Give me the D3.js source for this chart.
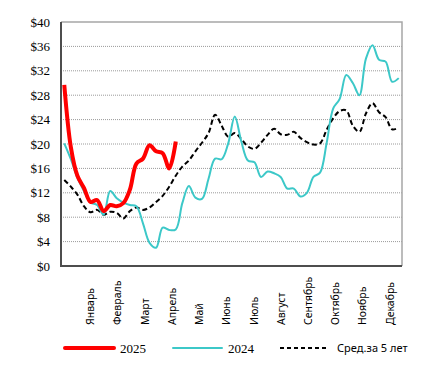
<!DOCTYPE html>
<html>
<head>
<meta charset="utf-8">
<script src="https://cdn.jsdelivr.net/npm/d3@7"></script>
<style>
  body { margin: 0; background: #fff; }
  svg { display: block; }
</style>
</head>
<body>
<svg id="chart" width="431" height="373"></svg>
<script>
// weekly values, 52 weeks
const weeks = d3.range(52);

const months = ["Январь", "Февраль", "Март", "Апрель", "Май", "Июнь",
    "Июль", "Август", "Сентябрь", "Октябрь", "Ноябрь", "Декабрь"];

const yTicks = [0, 4, 8, 12, 16, 20, 24, 28, 32, 36, 40];

const series2025 = [29.7, 19.5, 14.8, 12.8, 10.5, 10.8, 9.0, 10.0, 9.8, 10.3,
    12.5, 16.8, 17.6, 19.8, 18.8, 18.5, 16.0, 20.4];

const series2024 = [20.1, 17.5, 14.5, 12.3, 10.4, 10.0, 8.4, 12.3, 11.1, 10.4,
    10.0, 9.8, 7.0, 3.8, 3.0, 6.3, 5.9, 6.0, 10.3, 13.1,
    11.2, 11.0, 14.3, 17.6, 17.5, 20.1, 24.5, 20.4, 17.3, 17.0,
    14.6, 15.5, 15.2, 14.6, 12.7, 12.7, 11.4, 12.0, 14.6, 15.3,
    20.1, 25.8, 27.4, 31.3, 30.0, 28.0, 34.0, 36.2, 33.8, 33.5,
    30.2, 30.8];

const avg5 = [14.1, 13.0, 11.7, 9.8, 8.8, 9.2, 8.4, 8.9, 8.7, 7.8,
    9.0, 9.6, 9.2, 9.6, 10.5, 11.5, 13.0, 14.8, 16.3, 17.3,
    18.8, 20.2, 21.8, 24.8, 23.0, 21.2, 21.8, 20.8, 19.6, 19.2,
    20.2, 21.5, 22.5, 21.6, 21.5, 22.0, 21.0, 20.3, 19.9, 20.1,
    22.3, 24.2, 25.4, 25.5, 23.0, 22.0, 25.0, 26.7, 25.2, 24.4,
    22.4, 22.7];

const legendItems = [
    { label: "2025", color: "#ff0000", width: 4, dash: null, font: "Liberation Serif", size: 13 },
    { label: "2024", color: "#3cc8c8", width: 2, dash: null, font: "Liberation Serif", size: 13 },
    { label: "Сред.за 5 лет", color: "#000", width: 2, dash: "4,3", font: "Noto Sans", size: 11 }
];

const svg = d3.select("#chart");
const plot = { left: 61, right: 402, top: 22, bottom: 266 };

const x = d3.scaleBand()
    .domain(weeks)
    .range([plot.left, plot.right]);

const y = d3.scaleLinear()
    .domain([0, 40])
    .range([plot.bottom, plot.top]);

const xc = (i) => x(i) + x.bandwidth() / 2;

// month labels sit roughly every 4.4 weeks starting near week 4
const xMonth = d3.scalePoint()
    .domain(months)
    .range([xc(0) + 3.9 * x.bandwidth(), xc(0) + 49.6 * x.bandwidth()]);

// grid
svg.append("g")
    .selectAll("line")
    .data(yTicks.filter(d => d > 0 && d < 40))
    .enter().append("line")
    .attr("x1", plot.left)
    .attr("x2", plot.right)
    .attr("y1", d => y(d))
    .attr("y2", d => y(d))
    .attr("stroke", "#9a9a9a")
    .attr("stroke-width", 1)
    .attr("stroke-dasharray", "1,1");

// frame top/right
svg.append("path")
    .attr("d", `M${plot.left},${plot.top}H${plot.right}V${plot.bottom}`)
    .attr("fill", "none")
    .attr("stroke", "#a6a6a6")
    .attr("stroke-width", 1.5);

// y axis
const yAxis = svg.append("g")
    .attr("transform", `translate(${plot.left},0)`)
    .call(d3.axisLeft(y).tickValues(yTicks).tickSize(0).tickPadding(11).tickFormat(d => "$" + d));
yAxis.select(".domain").remove();
yAxis.selectAll("text")
    .attr("font-family", "Liberation Serif")
    .attr("font-size", 13)
    .attr("fill", "#000");

// left / bottom axis lines
svg.append("path")
    .attr("d", `M${plot.left},${plot.top}V${plot.bottom}H${plot.right}`)
    .attr("fill", "none")
    .attr("stroke", "#4d4d4d")
    .attr("stroke-width", 2);

// month labels
const xAxis = svg.append("g")
    .attr("transform", "translate(0,325)")
    .call(d3.axisBottom(xMonth).tickSize(0));
xAxis.select(".domain").remove();
xAxis.selectAll("text")
    .attr("font-family", "Noto Sans")
    .attr("font-size", 10.5)
    .attr("fill", "#000")
    .attr("text-anchor", "start")
    .attr("transform", "rotate(-90)")
    .attr("x", 0)
    .attr("y", 0)
    .attr("dy", "0.35em");

const line = d3.line()
    .x((d, i) => xc(i))
    .y(d => y(d))
    .curve(d3.curveCatmullRom.alpha(0.5));

svg.append("path")
    .datum(avg5)
    .attr("d", line)
    .attr("fill", "none")
    .attr("stroke", "#000")
    .attr("stroke-width", 2)
    .attr("stroke-dasharray", "5,3");

svg.append("path")
    .datum(series2024)
    .attr("d", line)
    .attr("fill", "none")
    .attr("stroke", "#3cc8c8")
    .attr("stroke-width", 2);

svg.append("path")
    .datum(series2025)
    .attr("d", line)
    .attr("fill", "none")
    .attr("stroke", "#ff0000")
    .attr("stroke-width", 4)
    .attr("stroke-linejoin", "round");

// legend
const legendX = [65, 173, 280];
const legend = svg.append("g").attr("transform", "translate(0,348)");
legendItems.forEach((d, i) => {
    const g = legend.append("g").attr("transform", `translate(${legendX[i]},0)`);
    g.append("line")
        .attr("x1", 0).attr("x2", 49)
        .attr("stroke", d.color)
        .attr("stroke-width", d.width)
        .attr("stroke-linecap", d.dash ? "butt" : "round")
        .attr("stroke-dasharray", d.dash);
    g.append("text")
        .attr("x", i == 2 ? 57 : 55)
        .attr("dy", "0.35em")
        .attr("font-family", d.font)
        .attr("font-size", d.size)
        .text(d.label);
});
</script>
</body>
</html>
